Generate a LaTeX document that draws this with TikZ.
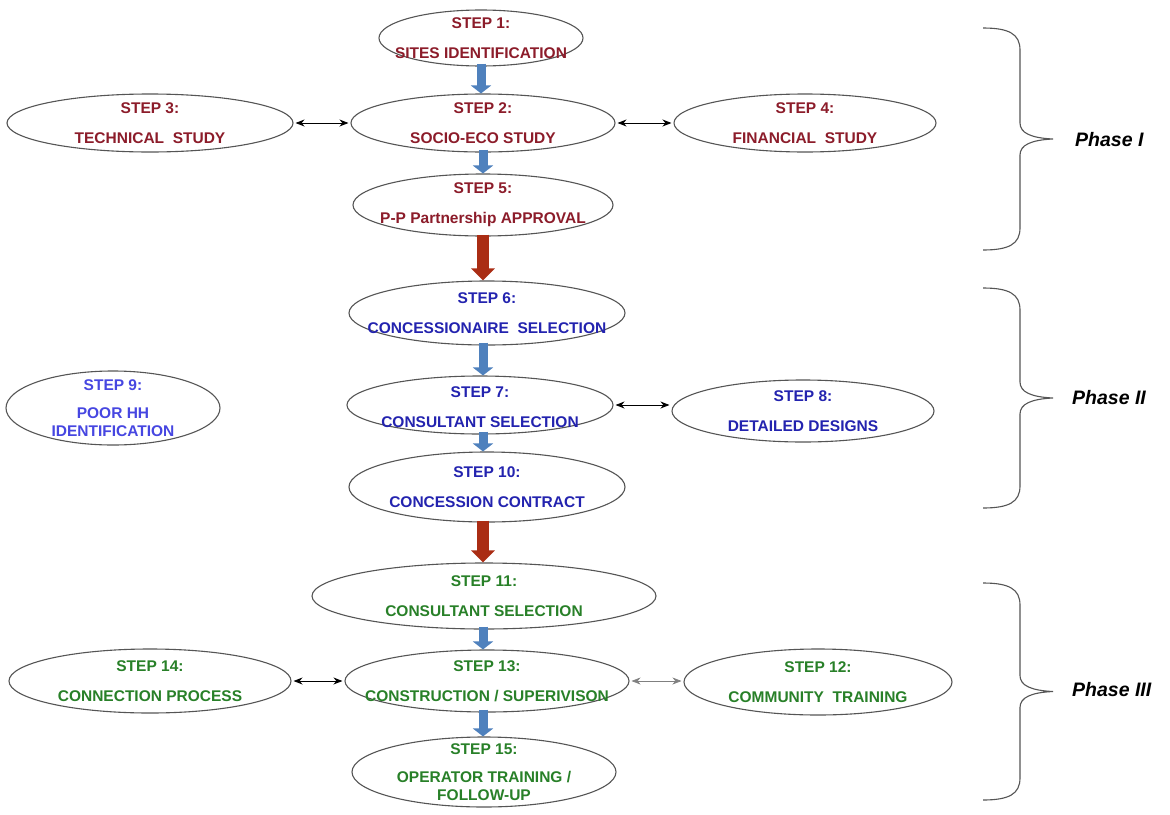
\documentclass[tikz,border=0pt]{standalone}
\usepackage{fontspec}
\setmainfont{Liberation Sans}
\usetikzlibrary{shapes.geometric,arrows.meta}
\definecolor{ptred}{RGB}{140,28,42}
\definecolor{ptblue}{RGB}{35,35,175}
\definecolor{ptlblue}{RGB}{70,70,225}
\definecolor{ptgreen}{RGB}{40,128,40}
\definecolor{arrblue}{RGB}{79,129,189}
\definecolor{arrred}{RGB}{170,45,20}
\definecolor{edgegray}{RGB}{85,85,85}
\newcommand{\phbrace}[3]{% x-left, top, bottom
  \draw[line width=1.1pt, draw=edgegray]
   (#1,#2) .. controls (#1+26,#2) and (#1+37,#2+6) .. (#1+37,#2+22)
   -- (#1+37,{(#2+#3)/2-16})
   .. controls (#1+37,{(#2+#3)/2-6}) and (#1+48,{(#2+#3)/2-1}) .. (#1+70,{(#2+#3)/2})
   .. controls (#1+48,{(#2+#3)/2+1}) and (#1+37,{(#2+#3)/2+6}) .. (#1+37,{(#2+#3)/2+16})
   -- (#1+37,#3-22)
   .. controls (#1+37,#3-6) and (#1+26,#3) .. (#1,#3);}
\begin{document}
\begin{tikzpicture}[x=1pt,y=-1pt,
  stepbox/.style={ellipse, draw=edgegray, line width=1.1pt, inner sep=0pt, fill=white},
  steptext/.style={font=\bfseries\fontsize{15.5}{30}\selectfont, align=center, inner sep=0pt},
  steptextb/.style={font=\bfseries\fontsize{15.5}{18}\selectfont, align=center, inner sep=0pt},
  bluearrow/.style={line width=9pt, color=arrblue, shorten <=-3pt, -{Triangle[width=20pt,length=8pt]}},
  redarrow/.style={line width=12pt, color=arrred, shorten <=-2pt, -{Triangle[width=23pt,length=12pt]}},
  dblarrow/.style={line width=0.9pt, {Stealth[length=9pt,width=7pt]}-{Stealth[length=9pt,width=7pt]}, shorten <=2pt, shorten >=2pt},
  phasetext/.style={font=\bfseries\itshape\fontsize{19.5}{22}\selectfont, anchor=west, inner sep=0pt}
]
\useasboundingbox[fill=white] (0,0) rectangle (1170,814);

% Phase I
\node[stepbox, minimum width=204pt, minimum height=56pt] (s1) at (481,38) {};
\node[stepbox, minimum width=264pt, minimum height=58pt] (s2) at (483,123) {};
\node[stepbox, minimum width=286pt, minimum height=58pt] (s3) at (150,123) {};
\node[stepbox, minimum width=262pt, minimum height=58pt] (s4) at (805,123) {};
\node[stepbox, minimum width=260pt, minimum height=62pt] (s5) at (483,205) {};
\node[steptext, text=ptred] (s1t) at (s1) {STEP 1:\\SITES IDENTIFICATION};
\node[steptext, text=ptred] (s2t) at (s2) {STEP 2:\\SOCIO-ECO STUDY};
\node[steptext, text=ptred] (s3t) at (s3) {STEP 3:\\TECHNICAL\ \ STUDY};
\node[steptext, text=ptred] (s4t) at (s4) {STEP 4:\\FINANCIAL\ \ STUDY};
\node[steptext, text=ptred] (s5t) at (s5) {STEP 5:\\P-P Partnership APPROVAL};

% Phase II
\node[stepbox, minimum width=276pt, minimum height=64pt] (s6) at (487,313) {};
\node[stepbox, minimum width=266pt, minimum height=58pt] (s7) at (480,405) {};
\node[stepbox, minimum width=262pt, minimum height=62pt] (s8) at (803,411) {};
\node[stepbox, minimum width=214pt, minimum height=74pt] (s9) at (113,408) {};
\node[stepbox, minimum width=276pt, minimum height=70pt] (s10) at (487,487) {};
\node[steptext, text=ptblue] (s6t) at (s6) {STEP 6:\\CONCESSIONAIRE\ \ SELECTION};
\node[steptext, text=ptblue] (s7t) at ([yshift=-2pt]s7.center) {STEP 7:\\CONSULTANT SELECTION};
\node[steptext, text=ptblue] (s8t) at (s8) {STEP 8:\\DETAILED DESIGNS};
\node[steptextb, text=ptlblue] (s9t) at (s9) {STEP 9:\\[10pt]POOR HH\\IDENTIFICATION};
\node[steptext, text=ptblue] (s10t) at (s10) {STEP 10:\\CONCESSION CONTRACT};

% Phase III
\node[stepbox, minimum width=344pt, minimum height=66pt] (s11) at (484,596) {};
\node[stepbox, minimum width=284pt, minimum height=62pt] (s13) at (487,681) {};
\node[stepbox, minimum width=282pt, minimum height=64pt] (s14) at (150,681) {};
\node[stepbox, minimum width=268pt, minimum height=66pt] (s12) at (818,682) {};
\node[stepbox, minimum width=264pt, minimum height=70pt] (s15) at (484,772) {};
\node[steptext, text=ptgreen] (s11t) at (s11) {STEP 11:\\CONSULTANT SELECTION};
\node[steptext, text=ptgreen] (s13t) at (s13) {STEP 13:\\CONSTRUCTION / SUPERIVISON};
\node[steptext, text=ptgreen] (s14t) at (s14) {STEP 14:\\CONNECTION PROCESS};
\node[steptext, text=ptgreen] (s12t) at (s12) {STEP 12:\\COMMUNITY\ \ TRAINING};
\node[steptextb, text=ptgreen] (s15t) at (s15) {STEP 15:\\[10pt]OPERATOR TRAINING /\\FOLLOW-UP};

% block arrows (vertical)
\draw[bluearrow] (s1.south) -- (s1.south |- s2.north);
\draw[bluearrow] (s2.south) -- (s2.south |- s5.north);
\draw[redarrow] (s5.south) -- (s5.south |- s6.north);
\draw[bluearrow] (s6.south -| s5.south) -- (s7.north -| s5.south);
\draw[bluearrow] (s7.south -| s5.south) -- (s10.north -| s5.south);
\draw[redarrow] (s10.south -| s5.south) -- (s11.north -| s5.south);
\draw[bluearrow] (s11.south -| s5.south) -- (s13.north -| s5.south);
\draw[bluearrow] (s13.south -| s5.south) -- (s15.north -| s5.south);

% side arrows
\draw[dblarrow] (s3.east) -- (s2.west);
\draw[dblarrow] (s2.east) -- (s4.west);
\draw[dblarrow] (s7.east) -- (s7.east -| s8.west);
\draw[dblarrow] (s14.east) -- (s13.west);
\draw[dblarrow, line width=0.6pt, draw=gray] (s13.east) -- (s13.east -| s12.west);

% braces
\phbrace{983}{28}{250}
\phbrace{983}{288}{508}
\phbrace{983}{583}{800}
\node[phasetext] (p1) at (1075,140) {Phase I};
\node[phasetext] (p2) at (1072,398) {Phase II};
\node[phasetext] (p3) at (1072,690) {Phase III};
\end{tikzpicture}
\end{document}
